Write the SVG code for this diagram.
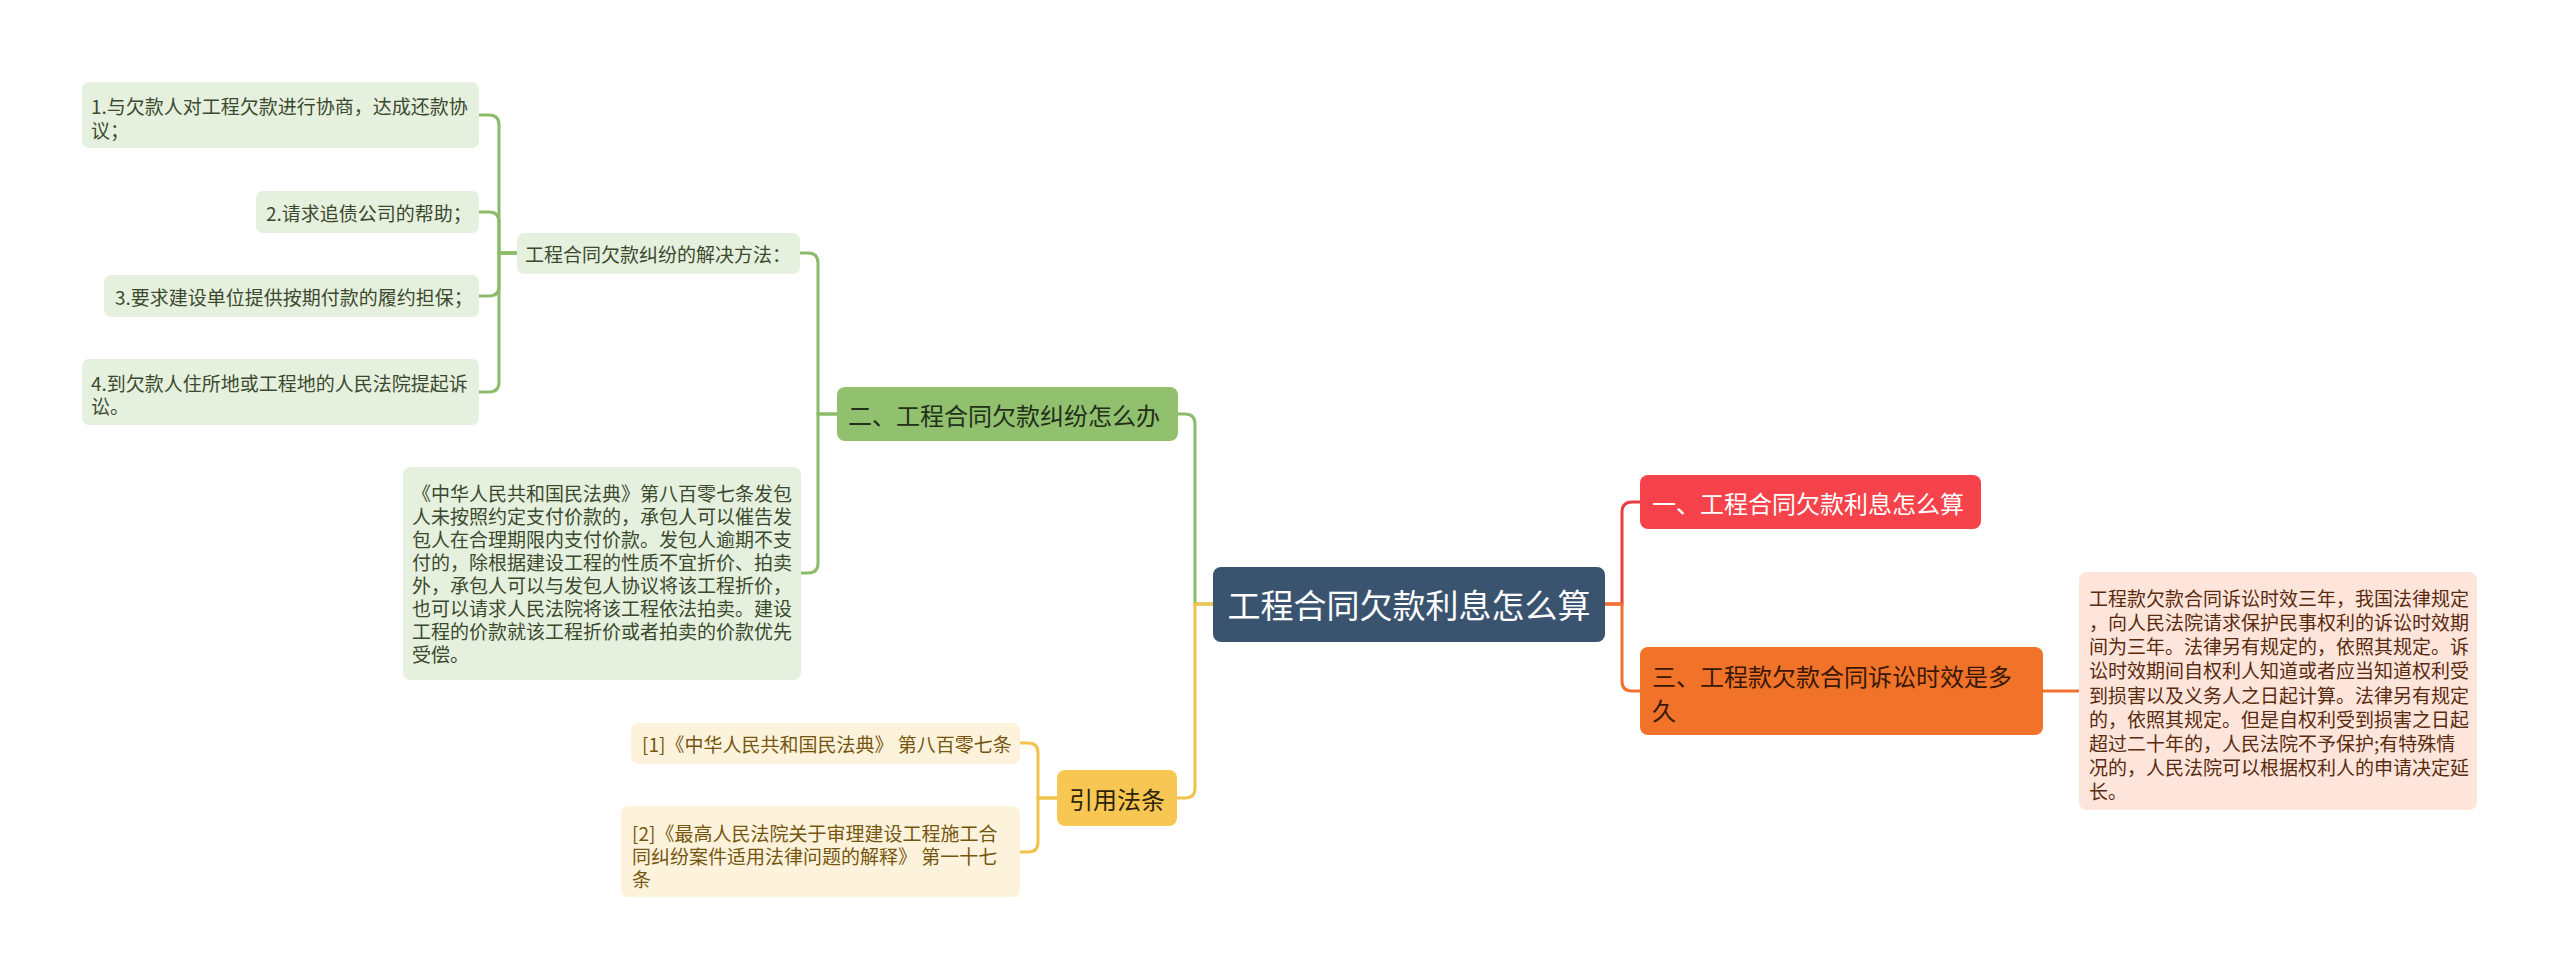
<svg xmlns="http://www.w3.org/2000/svg" width="2560" height="980" viewBox="0 0 2560 980">
<style>
text{font-family:"Noto Sans CJK SC","Noto Sans",sans-serif;dominant-baseline:central}
.s{font-size:19px}
.b{font-size:24px}
.gl{fill:#e6f0de}
.gt{fill:#3b4a2e}
.yl{fill:#fdf3dc}
.yt{fill:#76560f}
.ol{fill:#fde5db}
.ot{fill:#5a2a0e}
.c{fill:none;stroke-width:3;stroke-linecap:round}
.cg{stroke:#8cbb69}
.cy{stroke:#f3c24c}
.cr{stroke:#ea3c40}
.co{stroke:#ef7130}
</style>
<rect width="2560" height="980" fill="#ffffff"/>
<g id="connectors">
<path class="c cg" d="M1213 604 H1195 V424 Q1195 414 1185 414 H1178"/>
<path class="c cy" d="M1213 604 H1195 V788 Q1195 798 1185 798 H1177"/>
<path class="c cg" d="M837 414 H818 V263 Q818 253 808 253 H800"/>
<path class="c cg" d="M837 414 H818 V563 Q818 573 808 573 H801"/>
<path class="c cg" d="M517 253 H499 V125 Q499 115 489 115 H479"/>
<path class="c cg" d="M517 253 H499 V222 Q499 212 489 212 H479"/>
<path class="c cg" d="M517 253 H499 V286 Q499 296 489 296 H479"/>
<path class="c cg" d="M517 253 H499 V382 Q499 392 489 392 H479"/>
<path class="c cy" d="M1057 798 H1038 V753 Q1038 743 1028 743 H1020"/>
<path class="c cy" d="M1057 798 H1038 V842 Q1038 852 1028 852 H1020"/>
<path class="c cr" d="M1605 604 H1622 V512 Q1622 502 1632 502 H1640"/>
<path class="c co" d="M1605 604 H1622 V681 Q1622 691 1632 691 H1640"/>
<path class="c co" d="M2043 691 H2079"/>
</g>
<g id="root">
<rect x="1213" y="567" width="392" height="75" rx="8" fill="#3a5470"/>
<text x="1409" y="604" text-anchor="middle" font-size="33" fill="#ffffff">工程合同欠款利息怎么算</text>
</g>
<g id="branch1">
<rect x="1640" y="475" width="341" height="54" rx="8" fill="#f6424a"/>
<text class="b" x="1652" y="502" fill="#ffffff">一、工程合同欠款利息怎么算</text>
</g>
<g id="branch3">
<rect x="1640" y="647" width="403" height="88" rx="8" fill="#f07329"/>
<text class="b" fill="#3a1806"><tspan x="1652" y="675">三、工程款欠款合同诉讼时效是多</tspan><tspan x="1652" y="709">久</tspan></text>
</g>
<g id="leaf3">
<rect class="ol" x="2079" y="572" width="398" height="238" rx="8"/>
<text class="s ot"><tspan x="2089" y="597">工程款欠款合同诉讼时效三年，我国法律规定</tspan><tspan x="2089" y="621">，向人民法院请求保护民事权利的诉讼时效期</tspan><tspan x="2089" y="645">间为三年。法律另有规定的，依照其规定。诉</tspan><tspan x="2089" y="669">讼时效期间自权利人知道或者应当知道权利受</tspan><tspan x="2089" y="694">到损害以及义务人之日起计算。法律另有规定</tspan><tspan x="2089" y="718">的，依照其规定。但是自权利受到损害之日起</tspan><tspan x="2089" y="742">超过二十年的，人民法院不予保护;有特殊情</tspan><tspan x="2089" y="766">况的，人民法院可以根据权利人的申请决定延</tspan><tspan x="2089" y="790">长。</tspan></text>
</g>
<g id="branch2">
<rect x="837" y="387" width="341" height="54" rx="8" fill="#91c06e"/>
<text class="b" x="848" y="414" fill="#22301a">二、工程合同欠款纠纷怎么办</text>
</g>
<g id="sub">
<rect class="gl" x="517" y="233" width="283" height="41" rx="7"/>
<text class="s gt" x="525" y="253">工程合同欠款纠纷的解决方法：</text>
</g>
<g id="leaf-g1">
<rect class="gl" x="82" y="82" width="397" height="66" rx="7"/>
<text class="s gt"><tspan x="91" y="105">1.与欠款人对工程欠款进行协商，达成还款协</tspan><tspan x="91" y="129">议；</tspan></text>
</g>
<g id="leaf-g2">
<rect class="gl" x="256" y="191" width="223" height="42" rx="7"/>
<text class="s gt" x="266" y="212">2.请求追债公司的帮助；</text>
</g>
<g id="leaf-g3">
<rect class="gl" x="104" y="275" width="375" height="42" rx="7"/>
<text class="s gt" x="115" y="296">3.要求建设单位提供按期付款的履约担保；</text>
</g>
<g id="leaf-g4">
<rect class="gl" x="82" y="359" width="397" height="66" rx="7"/>
<text class="s gt"><tspan x="91" y="382">4.到欠款人住所地或工程地的人民法院提起诉</tspan><tspan x="91" y="405">讼。</tspan></text>
</g>
<g id="leaf-law">
<rect class="gl" x="403" y="467" width="398" height="213" rx="8"/>
<text class="s gt"><tspan x="412" y="492">《中华人民共和国民法典》第八百零七条发包</tspan><tspan x="412" y="515">人未按照约定支付价款的，承包人可以催告发</tspan><tspan x="412" y="538">包人在合理期限内支付价款。发包人逾期不支</tspan><tspan x="412" y="561">付的，除根据建设工程的性质不宜折价、拍卖</tspan><tspan x="412" y="584">外，承包人可以与发包人协议将该工程折价，</tspan><tspan x="412" y="607">也可以请求人民法院将该工程依法拍卖。建设</tspan><tspan x="412" y="630">工程的价款就该工程折价或者拍卖的价款优先</tspan><tspan x="412" y="653">受偿。</tspan></text>
</g>
<g id="branch-ref">
<rect x="1057" y="770" width="120" height="56" rx="8" fill="#f8c652"/>
<text class="b" x="1117" y="798" text-anchor="middle" fill="#2e2408">引用法条</text>
</g>
<g id="ref1">
<rect class="yl" x="631" y="723" width="389" height="41" rx="7"/>
<text class="s yt" x="642" y="743">[1]《中华人民共和国民法典》 第八百零七条</text>
</g>
<g id="ref2">
<rect class="yl" x="621" y="806" width="399" height="91" rx="7"/>
<text class="s yt"><tspan x="632" y="832">[2]《最高人民法院关于审理建设工程施工合</tspan><tspan x="632" y="855">同纠纷案件适用法律问题的解释》 第一十七</tspan><tspan x="632" y="878">条</tspan></text>
</g>
</svg>
